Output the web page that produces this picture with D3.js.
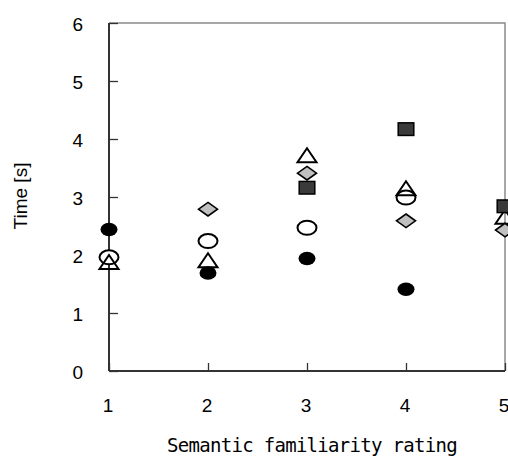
<!DOCTYPE html>
<html>
<head>
<meta charset="utf-8">
<script src="https://cdn.jsdelivr.net/npm/d3@7"></script>
<style>
  html, body { margin: 0; padding: 0; background: #fff; }
  svg { display: block; }
  .tick-label { font-family: 'Liberation Sans', Arial, sans-serif; font-size: 19px; fill: #000; }
  .axis-title { font-family: 'Liberation Sans', Arial, sans-serif; font-size: 19px; fill: #000; }
  .x-title { font-family: 'DejaVu Sans Mono', 'Liberation Mono', monospace; font-size: 19px; letter-spacing: -0.7px; fill: #000; }
</style>
</head>
<body>
<svg id="chart"></svg>
<script>
// ratings on the x axis
const ratings = [1, 2, 3, 4, 5];
const yTicks  = [0, 1, 2, 3, 4, 5, 6];

// mean times per rating, null where no marker is drawn
const openCircle   = [1.96, 2.24, 2.47, 2.99, null];
const triangle     = [1.88, 1.91, 3.72, 3.15, 2.66];
const diamond      = [null, 2.79, 3.41, 2.59, 2.43];
const square       = [null, null, 3.16, 4.17, 2.84];
const filledCircle = [2.44, 1.69, 1.94, 1.41, null];

const W = 508, H = 456;
const margin = { top: 23, right: 3, bottom: 85, left: 109 };

const svg = d3.select('#chart').attr('width', W).attr('height', H);

const x = d3.scaleLinear().domain([1, 5]).range([margin.left, W - margin.right]);
const y = d3.scaleLinear().domain([0, 6]).range([H - margin.bottom, margin.top]);

const x0 = x(1), x1 = x(5), yb = y(0), yt = y(6);

// plot border (top + right, gray)
svg.append('path')
  .attr('d', `M${x0},${yt}H${x1}V${yb}`)
  .attr('fill', 'none').attr('stroke', '#8a8a8a').attr('stroke-width', 1.5);

// y axis with inward ticks
const yAxis = svg.append('g').attr('transform', `translate(${x0},0)`)
  .call(d3.axisRight(y).tickValues(yTicks).tickSize(9).tickFormat(''));
yAxis.select('.domain').attr('stroke', '#333').attr('stroke-width', 2).attr('d', `M0,${yt}V${yb}`);
yAxis.selectAll('.tick line').attr('stroke', '#333').attr('stroke-width', 1.3);

svg.append('g').selectAll('text')
  .data(yTicks).join('text')
  .attr('class', 'tick-label')
  .attr('fill', '#000')
  .attr('x', x0 - 26).attr('y', d => y(d) + 7.5)
  .attr('text-anchor', 'end')
  .text(d => d);

// x axis with inward ticks
const xAxis = svg.append('g').attr('transform', `translate(0,${yb})`)
  .call(d3.axisTop(x).tickValues(ratings).tickSize(8).tickFormat(''));
xAxis.select('.domain').attr('stroke', '#333').attr('stroke-width', 2).attr('d', `M${x0},0H${x1}`);
xAxis.selectAll('.tick line').attr('stroke', '#333').attr('stroke-width', 1.3);

svg.append('g').selectAll('text')
  .data(ratings).join('text')
  .attr('class', 'tick-label')
  .attr('fill', '#000')
  .attr('x', d => x(d) - 1).attr('y', yb + 41)
  .attr('text-anchor', 'middle')
  .text(d => d);

// axis titles
svg.append('text')
  .attr('class', 'axis-title')
  .attr('fill', '#000')
  .attr('transform', 'translate(27,196) rotate(-90)')
  .attr('text-anchor', 'middle')
  .text('Time  [s]');

svg.append('text')
  .attr('class', 'x-title')
  .attr('fill', '#000')
  .attr('x', 312).attr('y', 452)
  .attr('text-anchor', 'middle')
  .text('Semantic familiarity rating');

// marker shapes (stretched wider than tall like the original)
function pts(values) {
  return values.map((v, i) => ({ r: ratings[i], v })).filter(d => d.v != null);
}
const g = svg.append('g');

g.selectAll('.open-circle').data(pts(openCircle)).join('ellipse')
  .attr('class', 'open-circle')
  .attr('cx', d => x(d.r)).attr('cy', d => y(d.v))
  .attr('rx', 9.5).attr('ry', 7)
  .attr('fill', '#fff').attr('stroke', '#000').attr('stroke-width', 2);

g.selectAll('.triangle').data(pts(triangle)).join('path')
  .attr('class', 'triangle')
  .attr('transform', d => `translate(${x(d.r)},${y(d.v)})`)
  .attr('d', 'M0,-7L9.5,7H-9.5Z')
  .attr('fill', 'none').attr('stroke', '#000').attr('stroke-width', 2).attr('stroke-linejoin', 'miter');

g.selectAll('.diamond').data(pts(diamond)).join('path')
  .attr('class', 'diamond')
  .attr('transform', d => `translate(${x(d.r)},${y(d.v)})`)
  .attr('d', 'M0,-6.8L9.5,0L0,6.8L-9.5,0Z')
  .attr('fill', '#c0c0c0').attr('stroke', '#000').attr('stroke-width', 1.6);

g.selectAll('.square').data(pts(square)).join('rect')
  .attr('class', 'square')
  .attr('x', d => x(d.r) - 7.8).attr('y', d => y(d.v) - 6.3)
  .attr('width', 15.6).attr('height', 12.6)
  .attr('fill', '#3a3a3a').attr('stroke', '#000').attr('stroke-width', 1.5);

g.selectAll('.filled-circle').data(pts(filledCircle)).join('ellipse')
  .attr('class', 'filled-circle')
  .attr('cx', d => x(d.r)).attr('cy', d => y(d.v))
  .attr('rx', 8.5).attr('ry', 6.8)
  .attr('fill', '#000');
</script>
</body>
</html>
